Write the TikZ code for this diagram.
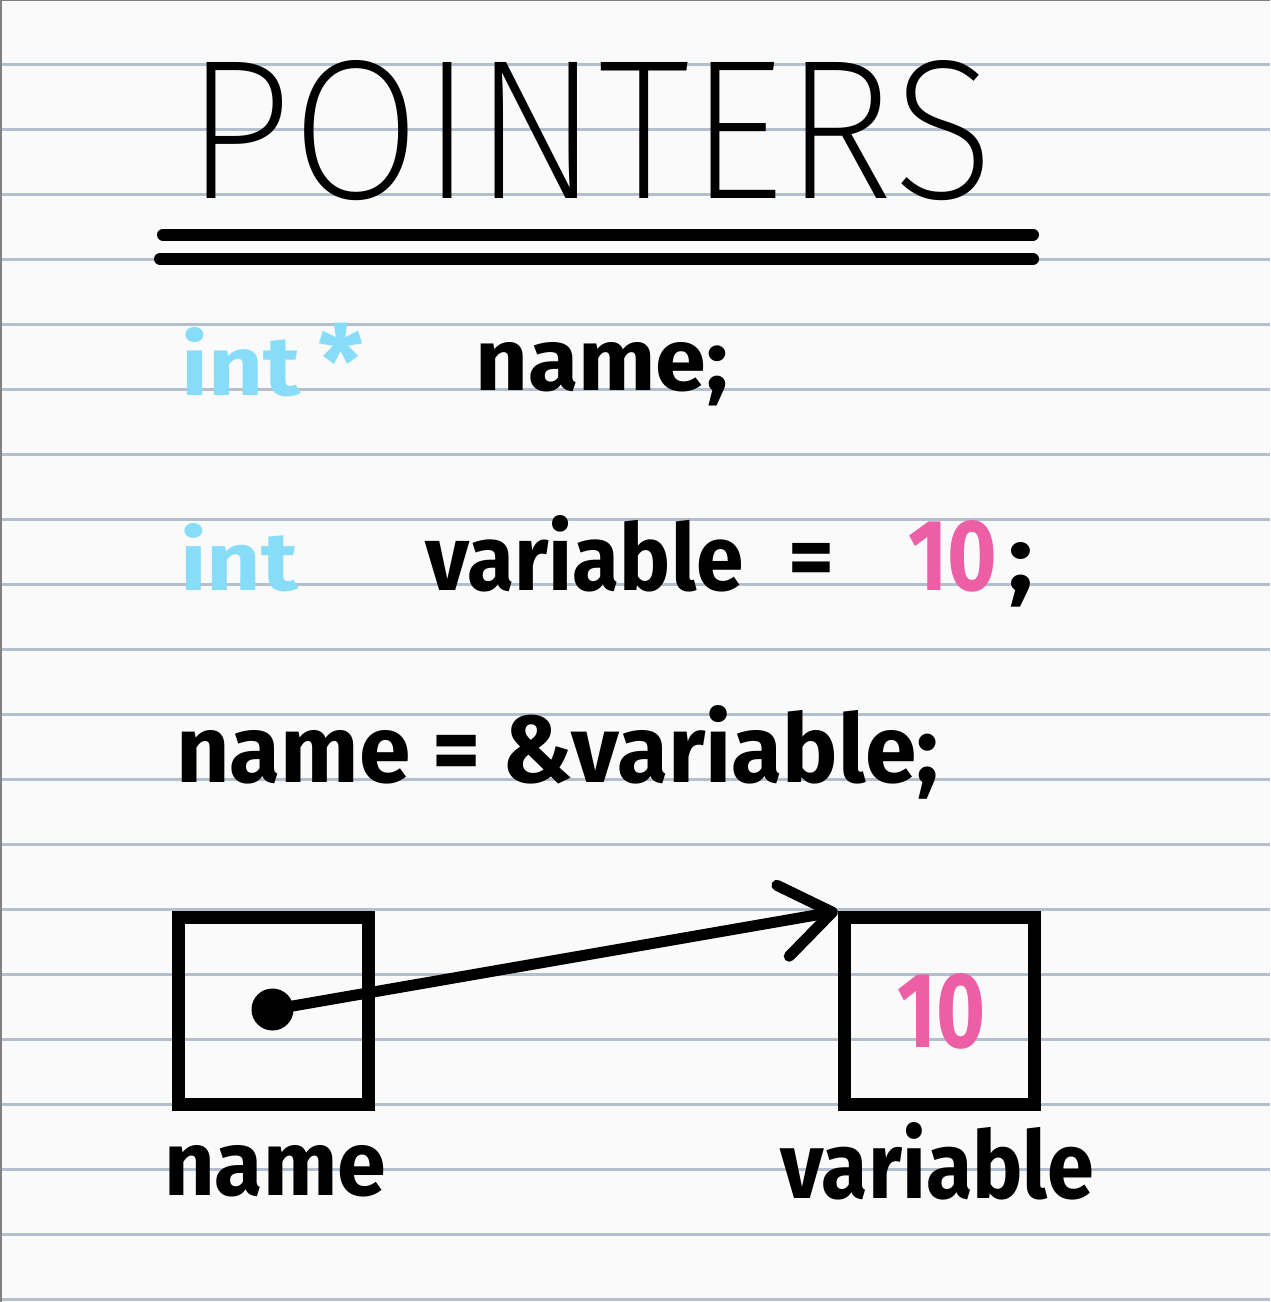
\documentclass[tikz,border=0pt]{standalone}
\usepackage{fontspec}
\usepackage{graphicx}
\usetikzlibrary{arrows.meta}
\setmainfont{Fira Sans}
\IfFontExistsTF{Fira Sans ExtraLight}{\newfontfamily\titlefont{Fira Sans ExtraLight}}{%
  \IfFontExistsTF{Fira Sans Thin}{\newfontfamily\titlefont{Fira Sans Thin}}{\newfontfamily\titlefont{Fira Sans}}}
\definecolor{paper}{HTML}{FAFAFA}
\definecolor{ruleline}{HTML}{B3BFCD}
\definecolor{intblue}{HTML}{87DDF8}
\definecolor{tenpink}{HTML}{EC5FA6}
\newcommand\handfit[3]{\resizebox{#1pt}{#2pt}{#3}}
\begin{document}
\begin{tikzpicture}[x=1pt,y=-1pt,
  rule/.style={ruleline,line width=3pt},
  bar/.style={line width=12pt,line cap=round},
  word/.style={inner sep=0pt,anchor=base west},
  cell/.style={draw,line width=13pt,minimum width=190pt,minimum height=187pt,inner sep=0pt}]
  \useasboundingbox (0,0) rectangle (1270,1302);
  \fill[paper] (0,0) rectangle (1270,1302);
  % ruled paper
  \foreach \y in {64.5,129.5,...,1300} \draw[rule] (2,\y) -- (1270,\y);
  \draw[gray,line width=2pt] (1,0) -- (1,1302);
  \draw[gray,line width=1pt] (0,0.5) -- (1270,0.5);
  % title
  \node[word] (title) at (185,198) {\handfit{808}{138}{\titlefont POINTERS}};
  \draw[bar] (163,234.5) -- (1033,234.5);
  \draw[bar] (160,259) -- (1033,259);
  % code lines
  \node[word,intblue] (int1) at (181,395) {\handfit{119}{68}{\bfseries int}};
  \node[inner sep=0pt,anchor=north west,intblue] (star) at (318,323) {\resizebox{45pt}{!}{\bfseries *}};
  \node[word] (decl) at (475,390) {\handfit{253}{48}{\bfseries name;}};
  \node[word,intblue] (int2) at (180,590) {\handfit{118}{67}{\bfseries int}};
  \node[word] (var1) at (425,590) {\handfit{318}{75}{\bfseries variable}};
  \node[inner sep=0pt,anchor=north west] (eq1) at (788,543) {\resizebox{46pt}{!}{\bfseries =}};
  \node[word,tenpink] (ten1) at (908,590) {\handfit{89}{70}{\bfseries 10}};
  \node[word] (semi1) at (1008,590) {\handfit{25}{48}{\bfseries ;}};
  \node[word] (assign) at (176,782) {\handfit{762}{77}{\bfseries name = \&variable;}};
  % memory boxes
  \node[cell] (namebox) at (273.25,1010.75) {};
  \node[cell] (varbox) at (939.25,1011.25) {};
  \node[word,tenpink] (ten2) at (897,1047) {\handfit{88}{74}{\bfseries 10}};
  \node[circle,fill,inner sep=0pt,minimum size=42pt] (ptr) at (272.5,1009.5) {};
  \draw[line width=11pt,-{Straight Barb[length=50pt,width=72pt,round]}] (ptr.center) -- (varbox.north west);
  \node[word] (namelabel) at (164,1195) {\handfit{222}{50}{\bfseries name}};
  \node[word] (varlabel) at (780,1198) {\handfit{314}{76}{\bfseries variable}};
\end{tikzpicture}
\end{document}
